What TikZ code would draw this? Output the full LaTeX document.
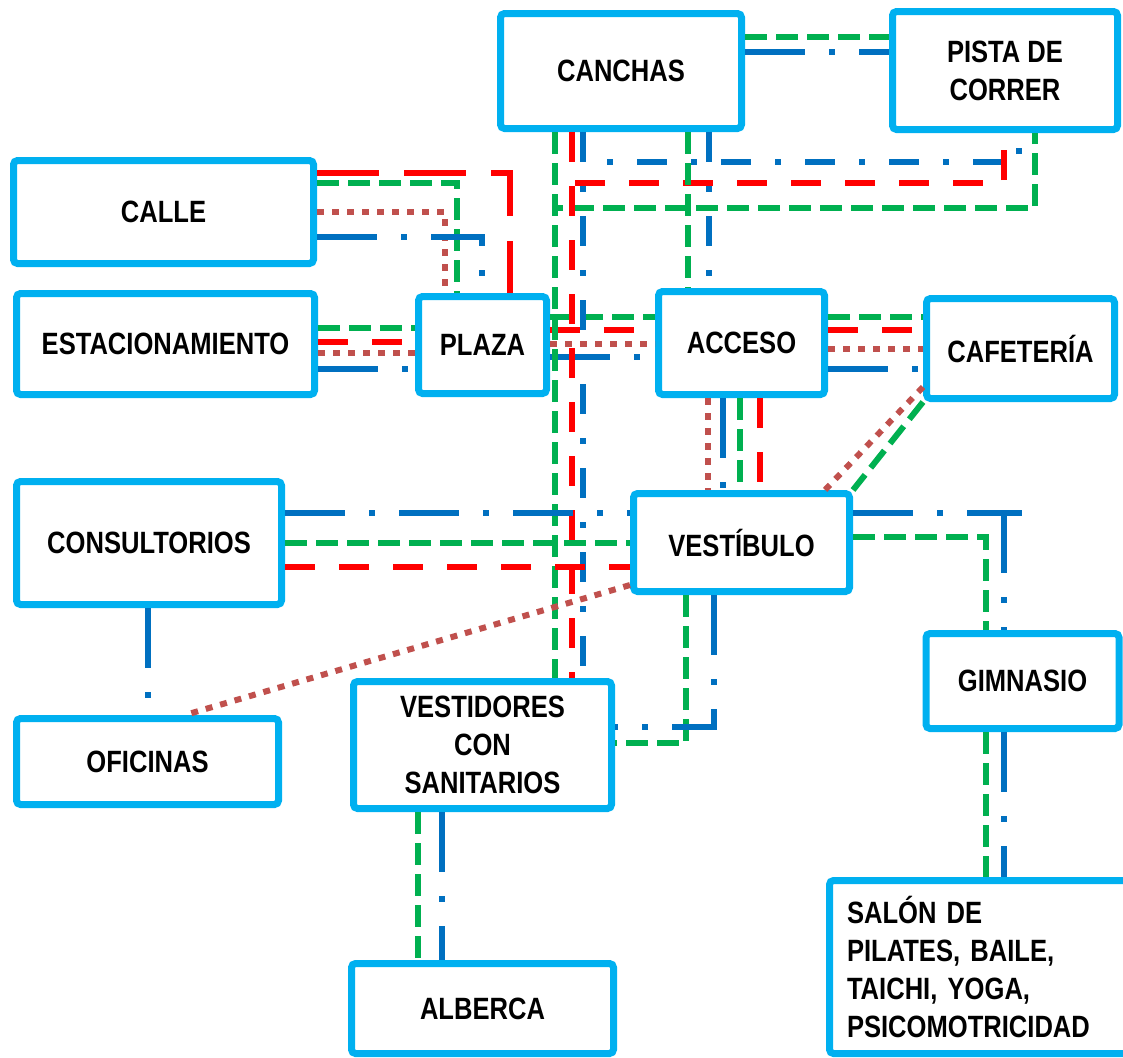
\documentclass[tikz,border=0pt]{standalone}
\usepackage{fontspec}
\setmainfont{Liberation Sans}[FakeStretch=0.83]
\definecolor{cajaazul}{HTML}{00B0F0}
\definecolor{verdel}{HTML}{00B050}
\definecolor{rojol}{HTML}{FF0000}
\definecolor{azull}{HTML}{0070C0}
\definecolor{cafel}{HTML}{C0504D}

\begin{document}
\begin{tikzpicture}[x=0.5pt,y=-0.5pt,
    caja/.style={draw=cajaazul, line width=3.5pt, fill=white, rounded corners=2pt,
        font=\fontsize{15.4}{19}\selectfont\bfseries, align=center, inner sep=2pt},
    verde/.style={draw=verdel, line width=3pt, dash pattern=on 11pt off 4.5pt},
    rojo/.style={draw=rojol, line width=3pt, dash pattern=on 15pt off 12pt},
    rojolargo/.style={draw=rojol, line width=3pt, dash pattern=on 31pt off 12.5pt},
    azul/.style={draw=azull, line width=3pt, dash pattern=on 30pt off 12pt on 3pt off 12pt},
    azulcorto/.style={draw=azull, line width=3pt, dash pattern=on 15pt off 12pt on 3pt off 12pt},
    cafe/.style={draw=cafel, line width=3pt, dash pattern=on 3.5pt off 4pt}]
    \useasboundingbox (0,0) rectangle (1123,1057);

    \node[caja, minimum width=120.5pt, minimum height=57.5pt] (canchas) at (621,71) {CANCHAS};
    \node[caja, minimum width=112.5pt, minimum height=59pt] (pista) at (1005,70.5) {PISTA DE\\CORRER};
    \node[caja, minimum width=150pt, minimum height=51.5pt] (calle) at (163.5,212) {CALLE};
    \node[caja, minimum width=149pt, minimum height=50.5pt] (estacionamiento) at (165.5,344) {ESTACIONAMIENTO};
    \node[caja, minimum width=64pt, minimum height=48.5pt] (plaza) at (482.5,345) {PLAZA};
    \node[caja, minimum width=83pt, minimum height=51.5pt] (acceso) at (741.5,343) {ACCESO};
    \node[caja, minimum width=94pt, minimum height=50pt] (cafeteria) at (1020.5,348.5) {CAFETERÍA};
    \node[caja, minimum width=132.5pt, minimum height=61.5pt] (consultorios) at (149,543) {CONSULTORIOS};
    \node[caja, minimum width=108pt, minimum height=49pt] (vestibulo) at (741.5,542.5) {VESTÍBULO};
    \node[caja, minimum width=96.5pt, minimum height=47.5pt] (gimnasio) at (1022.5,681) {GIMNASIO};
    \node[caja, minimum width=131pt, minimum height=43pt] (oficinas) at (147.5,761.5) {OFICINAS};
    \node[caja, minimum width=129pt, minimum height=63.5pt] (vestidores) at (482.5,745) {VESTIDORES\\CON\\SANITARIOS};
    \node[caja, minimum width=131pt, minimum height=45pt] (alberca) at (482.5,1008.5) {ALBERCA};
    \node[caja, minimum width=151pt, minimum height=86.5pt, text width=133.5pt, align=left] (salon) at (980.5,967)
        {SALÓN DE\\PILATES, BAILE,\\TAICHI, YOGA,\\PSICOMOTRICIDAD};

    % calle - plaza
    \draw[rojolargo] (calle.east |- 0,173) -| (plaza.north -| 510,0);
    \draw[verde] (calle.east |- 0,183) -| (plaza.north -| 457,0);
    \draw[cafe] (calle.east |- 0,212) -| (plaza.north -| 445,0);
    \draw[azul] (calle.east |- 0,237) -| (plaza.north -| 482,0);

    % estacionamiento - plaza
    \draw[verde] (estacionamiento.east |- 0,328) -- (plaza.west |- 0,328);
    \draw[rojo] (estacionamiento.east |- 0,342) -- (plaza.west |- 0,342);
    \draw[cafe] (estacionamiento.east |- 0,353) -- (plaza.west |- 0,353);
    \draw[azul] (estacionamiento.east |- 0,369) -- (plaza.west |- 0,369);

    % plaza - acceso
    \draw[verde] (plaza.east |- 0,317) -- (acceso.west |- 0,317);
    \draw[rojo] (plaza.east |- 0,330) -- (acceso.west |- 0,330);
    \draw[cafe] (plaza.east |- 0,344) -- (acceso.west |- 0,344);
    \draw[azul] (plaza.east |- 0,357) -- (acceso.west |- 0,357);

    % acceso - cafeteria
    \draw[verde] (acceso.east |- 0,317) -- (cafeteria.west |- 0,317);
    \draw[rojo] (acceso.east |- 0,330) -- (cafeteria.west |- 0,330);
    \draw[cafe] (acceso.east |- 0,349) -- (cafeteria.west |- 0,349);
    \draw[azul] (acceso.east |- 0,369) -- (cafeteria.west |- 0,369);

    % canchas - pista
    \draw[verde] (canchas.east |- 0,37) -- (pista.west |- 0,37);
    \draw[azul] (canchas.east |- 0,52) -- (pista.west |- 0,52);
    \draw[azulcorto] (canchas.south -| 583,0) |- (1019,162) -- (pista.south -| 1019,0);
    \draw[rojo] (canchas.south -| 572,0) |- (1004,183) -- (pista.south -| 1004,0);
    \draw[verde] (canchas.south -| 555,0) |- (1035,208) -- (pista.south -| 1035,0);

    % canchas - vestidores
    \draw[verde] (canchas.south -| 555,0) -- (vestidores.north -| 555,0);
    \draw[rojo] (canchas.south -| 572,0) -- (vestidores.north -| 572,0);
    \draw[azulcorto] (canchas.south -| 583,0) -- (vestidores.north -| 583,0);

    % canchas - acceso
    \draw[verde] (canchas.south -| 688,0) -- (acceso.north -| 688,0);
    \draw[azulcorto] (canchas.south -| 709,0) -- (acceso.north -| 709,0);

    % acceso - vestibulo
    \draw[cafe] (acceso.south -| 708,0) -- (vestibulo.north -| 708,0);
    \draw[azul] (acceso.south -| 723,0) -- (vestibulo.north -| 723,0);
    \draw[verde] (acceso.south -| 740,0) -- (vestibulo.north -| 740,0);
    \draw[rojo] (acceso.south -| 760,0) -- (vestibulo.north -| 760,0);

    % cafeteria - vestibulo
    \draw[cafe] (cafeteria.west |- 0,387) -- (vestibulo.north -| 825,0);
    \draw[verde] (cafeteria.south west) -- (vestibulo.north east);

    % consultorios
    \draw[azul] (consultorios.east |- 0,513) -- (vestibulo.west |- 0,513);
    \draw[verde] (consultorios.east |- 0,543) -- (vestibulo.west |- 0,543);
    \draw[rojo] (consultorios.east |- 0,567) -- (vestibulo.west |- 0,567);
    \draw[azul] (consultorios.south -| 148,0) -- (oficinas.north -| 148,0);
    \draw[cafe] (vestibulo.west |- 0,585) -- (oficinas.north -| 185,0);

    % vestibulo - vestidores
    \draw[verde] (vestibulo.south -| 686,0) |- (vestidores.east |- 0,743);
    \draw[azul] (vestibulo.south -| 714,0) |- (vestidores.east |- 0,727);

    % vestibulo - gimnasio - salon
    \draw[azul] (vestibulo.east |- 0,513) -- (1022,513) (1004,513) -- (gimnasio.north -| 1004,0);
    \draw[verde] (vestibulo.east |- 0,537) -| (gimnasio.north -| 986,0);
    \draw[verde] (gimnasio.south -| 986,0) -- (salon.north -| 986,0);
    \draw[azul] (gimnasio.south -| 1004,0) -- (salon.north -| 1004,0);

    % vestidores - alberca
    \draw[verde] (vestidores.south -| 418,0) -- (alberca.north -| 418,0);
    \draw[azul] (vestidores.south -| 442,0) -- (alberca.north -| 442,0);

\end{tikzpicture}
\end{document}
